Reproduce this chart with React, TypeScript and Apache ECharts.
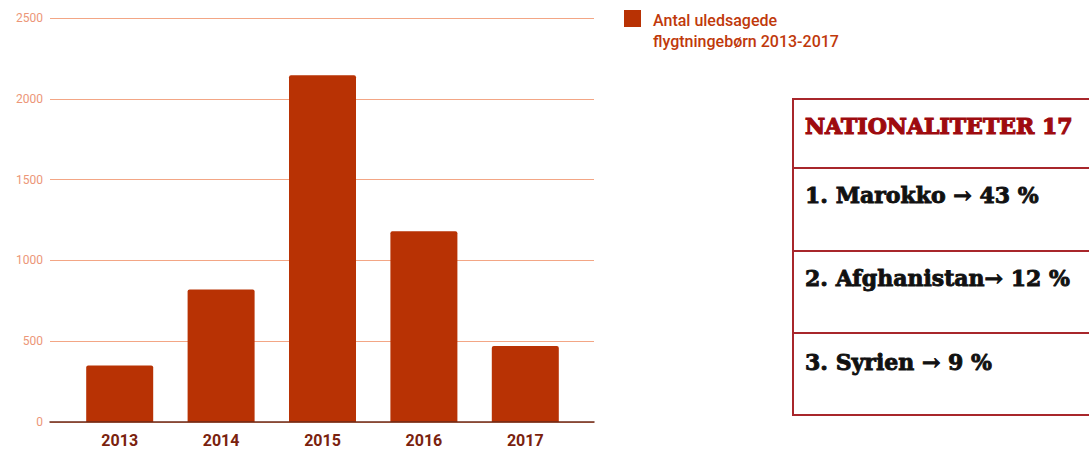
import React, { useEffect, useRef } from "react";
import * as echarts from "echarts";

const years = ["2013", "2014", "2015", "2016", "2017"];
const children = [350, 820, 2145, 1180, 470];
const legendLines = ["Antal uledsagede", "flygtningebørn 2013-2017"];
const tableTitle = "NATIONALITETER 17";
const tableRows = ["1. Marokko → 43 %", "2. Afghanistan→ 12 %", "3. Syrien → 9 %"];

export default function App() {
  const ref = useRef<HTMLDivElement>(null);
  useEffect(() => {
    if (!ref.current) return;
    const chart = echarts.init(ref.current, null, { renderer: "svg" });
    const border = "#A8262B";
    const rowYs = [195, 278, 362];
    chart.setOption({
      animation: false,
      backgroundColor: "#ffffff",
      grid: [
        { left: 50, right: 495, top: 18, bottom: 31 },
        { left: 69, right: 513, top: 18, bottom: 31 },
      ],
      xAxis: [
        {
          gridIndex: 0,
          type: "value",
          min: 0,
          max: 1,
          z: 5,
          axisLine: { show: true, lineStyle: { color: "#6B2A18", width: 1.5 } },
          axisTick: { show: false },
          axisLabel: { show: false },
          splitLine: { show: false },
        },
        {
          gridIndex: 1,
          type: "category",
          data: years,
          axisLine: { show: false },
          axisTick: { show: false },
          axisLabel: {
            color: "#7A220E",
            fontFamily: "Roboto",
            fontWeight: "bold",
            fontSize: 16,
            margin: 10,
          },
        },
      ],
      yAxis: [
        {
          gridIndex: 0,
          type: "value",
          min: 0,
          max: 2500,
          interval: 500,
          axisLine: { show: false },
          axisTick: { show: false },
          axisLabel: {
            color: "#EC9677",
            fontFamily: "Roboto",
            fontSize: 12,
            margin: 7,
            formatter: (v: number) => String(v),
          },
          splitLine: { lineStyle: { color: "#F3A685", width: 1 } },
        },
        {
          gridIndex: 1,
          type: "value",
          min: 0,
          max: 2500,
          show: false,
        },
      ],
      series: [
        {
          name: legendLines.join(" "),
          type: "bar",
          xAxisIndex: 1,
          yAxisIndex: 1,
          data: children,
          barWidth: 67,
          itemStyle: { color: "#B83204", borderRadius: [2, 2, 0, 0] },
        },
      ],
      graphic: [
        {
          type: "rect",
          shape: { x: 624, y: 10, width: 17, height: 17 },
          style: { fill: "#B83204" },
        },
        {
          type: "text",
          x: 653,
          y: 10,
          style: {
            text: legendLines.join("\n"),
            fill: "#C0390B",
            font: "500 16px Roboto",
            lineHeight: 21,
            verticalAlign: "top",
          },
        },
        {
          type: "rect",
          shape: { x: 793, y: 99, width: 330, height: 316 },
          style: { fill: "none", stroke: border, lineWidth: 2 },
        },
        ...[168, 251, 333].map((y) => ({
          type: "line",
          shape: { x1: 793, y1: y, x2: 1100, y2: y },
          style: { stroke: border, lineWidth: 2 },
        })),
        {
          type: "text",
          x: 805,
          y: 126,
          style: {
            text: tableTitle,
            fill: "#9E0B0F",
            stroke: "#9E0B0F",
            lineWidth: 1.2,
            font: "bold 22px 'DejaVu Serif'",
            verticalAlign: "middle",
          },
        },
        ...tableRows.map((t, i) => ({
          type: "text",
          x: 805,
          y: rowYs[i],
          style: {
            text: t,
            fill: "#111111",
            stroke: "#111111",
            lineWidth: 0.9,
            font: "bold 22px 'DejaVu Serif'",
            verticalAlign: "middle",
          },
        })),
      ],
    });
    return () => chart.dispose();
  }, []);
  return (
    <div
      ref={ref}
      style={{ position: "absolute", left: 0, top: 0, width: 1089, height: 453 }}
    />
  );
}
